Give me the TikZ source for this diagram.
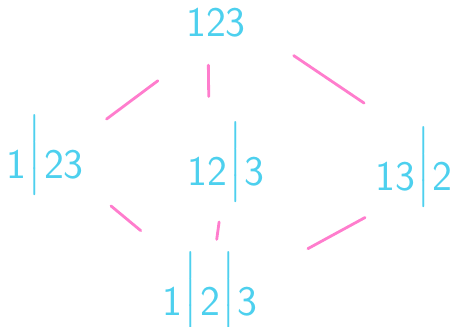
\documentclass[tikz,border=0pt]{standalone}
\usepackage{fontspec}
\usepackage{amsmath}
\usetikzlibrary{calc}
\definecolor{ink}{RGB}{77,208,238}
\definecolor{rose}{RGB}{255,125,205}
\tikzset{part/.style={text=ink, font=\sffamily\fontsize{24}{28}\selectfont,
    inner sep=0pt, text height=0.54cm, text depth=0pt}}
\tikzset{link/.style={draw=rose, line width=1.6pt, line cap=round}}
\newcommand{\cut}{\kern1pt\raisebox{7pt}{$\Big|$}\kern1pt}

\begin{document}
\begin{tikzpicture}[x=0.02cm, y=-0.02cm]
    \useasboundingbox (0,0) rectangle (453,327);

    % partitions
    \node[part] (t123) at (216,23.5) {123};
    \node[part] (p1x23) at (45,165) {1\cut 23};
    \node[part] (p12x3) at (226,172) {12\cut 3};
    \node[part] (p13x2) at (414,177) {13\cut 2};
    \node[part] (p1x2x3) at (210,302) {1\cut 2\cut 3};

    % links
    \draw[link] ($(t123.south)!0.34!(p1x23)$) -- ($(t123.south)!0.64!(p1x23)$);
    \draw[link] ($(t123.240)!0.23!(p12x3.140)$) -- ($(t123.240)!0.49!(p12x3.140)$);
    \draw[link] ($(t123.east)!0.23!(p13x2.north east)$) -- ($(t123.east)!0.57!(p13x2.north east)$);
    \draw[link] ($(p1x23.north)!0.40!(p1x2x3.north)$) -- ($(p1x23.north)!0.58!(p1x2x3.north)$);
    \draw[link] ($(p12x3)!0.43!(p1x2x3.north)$) -- ($(p12x3)!0.58!(p1x2x3.north)$);
    \draw[link] ($(p13x2.south)!0.24!(p1x2x3)$) -- ($(p13x2.south)!0.52!(p1x2x3)$);
\end{tikzpicture}
\end{document}
